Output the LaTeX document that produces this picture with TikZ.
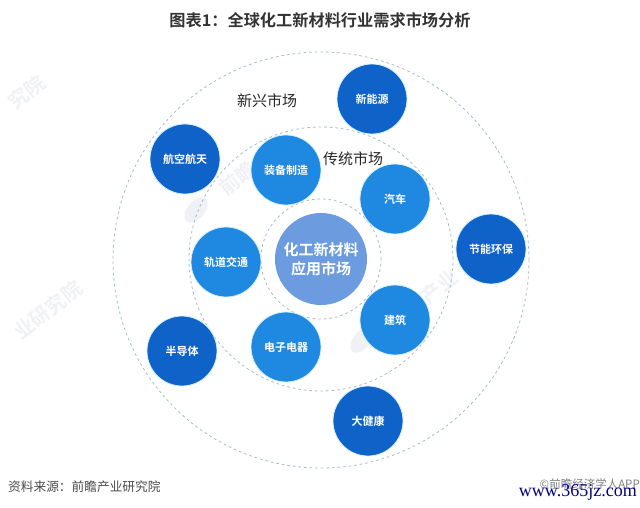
\documentclass[tikz,border=0pt]{standalone}
\usepackage{fontspec}
\setmainfont{Liberation Serif}
\newfontfamily\cjk{Noto Sans CJK SC}
\newfontfamily\cjkb{Noto Sans CJK SC Bold}
\usetikzlibrary{shapes.geometric}
\definecolor{dark}{HTML}{0F63C8}
\definecolor{mid}{HTML}{1F88E0}
\definecolor{core}{HTML}{6C9BDF}
\definecolor{ringc}{HTML}{A3BCCB}
\definecolor{glow}{HTML}{D3EFFA}
\definecolor{wm}{HTML}{F0F1F4}
\tikzset{
  ring/.style={circle,draw=ringc,dash pattern=on 2.6pt off 3pt,line width=0.8pt,minimum size=#1,inner sep=0pt},
  ball/.style={circle,fill=#1,draw=glow,line width=0.8pt,minimum size=70pt,inner sep=0pt,text=white,font=\cjkb\fontsize{11}{13}\selectfont},
  market/.style={font=\cjk\fontsize{15}{17}\selectfont,text=black!85},
  mark text/.style={font=\cjkb\fontsize{20}{22}\selectfont,text=wm,rotate=38},
  mark logo/.style={fill=wm,ellipse,minimum width=30pt,minimum height=17pt,rotate=50,inner sep=0pt}
}
\begin{document}
\begin{tikzpicture}[x=1pt,y=-1pt]
\useasboundingbox (0,0) rectangle (640,507);
\fill[white] (0,0) rectangle (640,507);
% watermarks
\node[mark text] (w1) at (27,92) {究院};
\node[mark text] (w2) at (238,178) {前瞻};
\node[mark text] (w3) at (48,310) {业研究院};
\node[mark text] (w4) at (440,287) {产业};
\node[mark logo] (l1) at (196,210) {};
\node[mark logo] (l2) at (362,340) {};
% rings
\node[ring=416pt] (outer) at (321,260) {};
\node[ring=264pt] (middle) at (321,259) {};
\node[ring=120pt] (inner) at (321,259) {};
% centre
\node[circle,fill=core,minimum size=92pt,inner sep=0pt,text=white,align=center,
  font=\cjkb\fontsize{15}{19}\selectfont] (centre) at (321,259) {化工新材料\\应用市场};
% balls
\node[ball=dark] (b1) at (372,99) {新能源};
\node[ball=dark] (b2) at (185,159) {航空航天};
\node[ball=dark] (b3) at (491,249) {节能环保};
\node[ball=dark] (b4) at (182,351) {半导体};
\node[ball=dark] (b5) at (368,421) {大健康};
\node[ball=mid] (c1) at (286,170) {装备制造};
\node[ball=mid] (c2) at (395,199) {汽车};
\node[ball=mid] (c3) at (226,262) {轨道交通};
\node[ball=mid] (c4) at (395,320) {建筑};
\node[ball=mid] (c5) at (286,347) {电子电器};
% labels
\node[market] (m1) at (267,101) {新兴市场};
\node[market] (m2) at (353,159) {传统市场};
\node[font=\cjkb\fontsize{16.2}{18}\selectfont,text=black!80] (title) at (320,20) {图表1：全球化工新材料行业需求市场分析};
\node[font=\cjk\fontsize{12.7}{14}\selectfont,text=black!70,anchor=west,inner sep=0pt] (src) at (8,487) {资料来源：前瞻产业研究院};
\node[font=\cjk\fontsize{11.5}{14}\selectfont,text=black!50,anchor=east,inner sep=0pt] (app) at (640,484) {©前瞻经济学人APP};
\node[font=\fontsize{18}{18}\selectfont,text=blue!50!black,anchor=east,inner sep=0pt] (site) at (637,492) {www.365jz.com};
\end{tikzpicture}
\end{document}
